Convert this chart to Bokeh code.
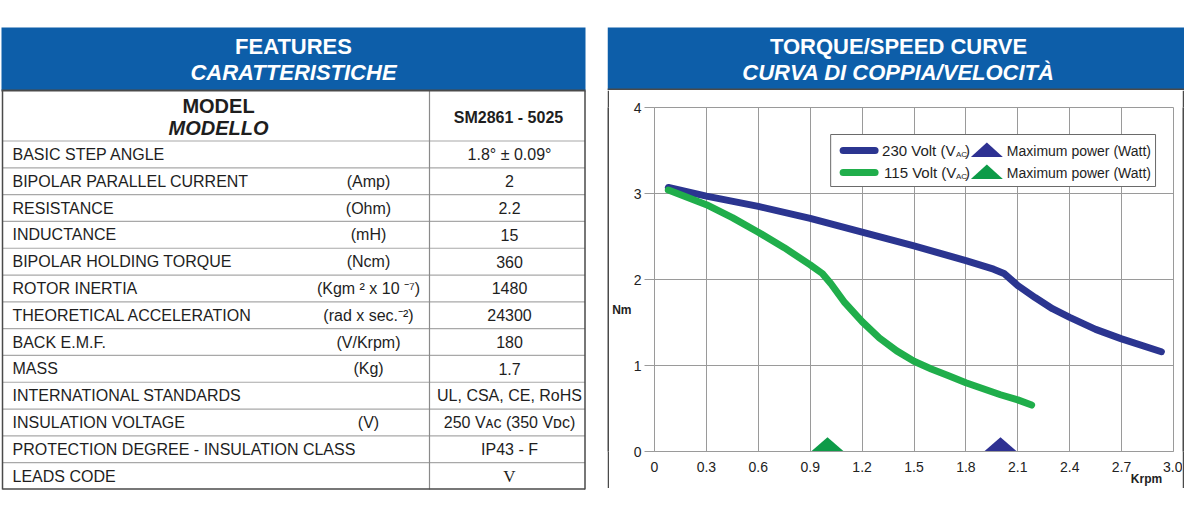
from bokeh.plotting import figure
from bokeh.layouts import row, column
from bokeh.models import Range1d, FixedTicker, LinearAxis
from bokeh.core.properties import value
from bokeh.embed import file_html
from bokeh.resources import INLINE

# ------------------------------------------------------------------ data
header_left = ["FEATURES", "CARATTERISTICHE"]
header_right = ["TORQUE/SPEED CURVE", "CURVA DI COPPIA/VELOCITÀ"]
model_label = ["MODEL", "MODELLO"]
model_value = "SM2861 - 5025"

row_labels = ["BASIC STEP ANGLE", "BIPOLAR PARALLEL CURRENT", "RESISTANCE", "INDUCTANCE",
              "BIPOLAR HOLDING TORQUE", "ROTOR INERTIA", "THEORETICAL ACCELERATION",
              "BACK E.M.F.", "MASS", "INTERNATIONAL STANDARDS", "INSULATION VOLTAGE",
              "PROTECTION DEGREE - INSULATION CLASS", "LEADS CODE"]
row_units = ["", "(Amp)", "(Ohm)", "(mH)", "(Ncm)", "(Kgm ² x 10 ⁻⁷)", "(rad x sec.⁻²)",
             "(V/Krpm)", "(Kg)", "", "(V)", "", ""]
row_values = ["1.8° ± 0.09°", "2", "2.2", "15", "360", "1480", "24300", "180", "1.7",
              "UL, CSA, CE, RoHS", "250 Vᴀᴄ (350 Vᴅᴄ)", "IP43 - F", "V"]

speed_230 = [0.08, 0.3, 0.6, 0.9, 1.2, 1.5, 1.8, 1.96, 2.02, 2.1, 2.2, 2.3, 2.4, 2.55, 2.7, 2.93]
torque_230 = [3.07, 2.97, 2.85, 2.71, 2.55, 2.39, 2.22, 2.12, 2.07, 1.93, 1.79, 1.66, 1.56, 1.42, 1.31, 1.16]
speed_115 = [0.08, 0.3, 0.45, 0.6, 0.75, 0.9, 0.97, 1.02, 1.1, 1.2, 1.3, 1.4, 1.5, 1.6,
             1.7, 1.8, 1.9, 2.0, 2.1, 2.18]
torque_115 = [3.04, 2.87, 2.72, 2.55, 2.37, 2.17, 2.07, 1.95, 1.73, 1.51, 1.32, 1.17, 1.05, 0.96,
              0.88, 0.80, 0.73, 0.66, 0.60, 0.54]
max_power_speed = [2.0, 1.0]          # 230 V, 115 V
series_names = ["230 Volt (V", "115 Volt (V"]
series_sub = "AC"
marker_name = "Maximum power (Watt)"

x_ticks = [0, 0.3, 0.6, 0.9, 1.2, 1.5, 1.8, 2.1, 2.4, 2.7, 3.0]
x_tick_labels = ["0", "0.3", "0.6", "0.9", "1.2", "1.5", "1.8", "2.1", "2.4", "2.7", "3.0"]
y_ticks = [0, 1, 2, 3, 4]
x_unit = "Krpm"
y_unit = "Nm"

# ------------------------------------------------------------------ style
FONT = "Liberation Sans"
HDR_BLUE = "#0d5ea9"
NAVY = "#2b3590"
GREEN = "#20ae4b"
TRI_NAVY = "#2e3192"
TRI_GREEN = "#0d9b48"
GRID = "#9a9a9a"
BORDER = "#4a4a4a"
ROWLINE = "#a8a8a8"
TXT = "#1e1e1e"


def blank(width, height, xr, yr, bg="white"):
    return figure(width=width, height=height, x_range=xr, y_range=yr,
                  x_axis_type=None, y_axis_type=None, toolbar_location=None,
                  output_backend="svg", min_border=0, outline_line_color=None,
                  background_fill_color=bg, border_fill_color=bg)


def txt(f, x, y, t, size, style="normal", align="center", color=TXT, font=FONT):
    f.text(x=x, y=y, text=t, text_font=value(font), text_font_size=value(size),
           text_font_style=style, text_align=align, text_baseline="middle",
           text_color=color)


# ------------------------------------------------------------------ left table
L = blank(607, 496, Range1d(3, 610), Range1d(496, 0))
L.quad(left=[4], right=[588], top=[27], bottom=[90], fill_color=HDR_BLUE, line_color=None)
txt(L, [296], [46], [header_left[0]], "22px", "bold", color="white")
txt(L, [296], [72], [header_left[1]], "22px", "bold italic", color="white")

ROW_TOP = 140.5
ROW_H = (489 - ROW_TOP) / len(row_labels)
row_lines = [ROW_TOP + ROW_H * i for i in range(len(row_labels))]
L.segment(x0=[5] * len(row_lines), x1=[587.5] * len(row_lines), y0=row_lines, y1=row_lines,
          line_color=ROWLINE, line_width=1.2)
L.segment(x0=[432], x1=[432], y0=[90], y1=[489], line_color="#8a8a8a", line_width=1.2)
L.segment(x0=[5, 587.5, 5, 4], x1=[5, 587.5, 587.5, 588], y0=[90, 90, 488.5, 90],
          y1=[489, 489, 488.5, 90], line_color=BORDER, line_width=[1.5, 1.5, 1.5, 2])

txt(L, [221], [105], [model_label[0]], "20px", "bold")
txt(L, [221], [127], [model_label[1]], "20px", "bold italic")
txt(L, [511], [117], [model_value], "16px", "bold")

centers = [ROW_TOP + ROW_H * (i + 0.5) for i in range(len(row_labels))]
txt(L, [15] * len(row_labels), centers, row_labels, "16px", align="left")
txt(L, [371] * len(row_units), centers, row_units, "16px")
txt(L, [512] * (len(row_values) - 1), centers[:-1], row_values[:-1], "16px")
txt(L, [512], centers[-1:], row_values[-1:], "17px", font="Liberation Serif")

# ------------------------------------------------------------------ right header
RH = blank(577, 90, Range1d(615, 1192), Range1d(90, 0))
RH.quad(left=[615], right=[1192], top=[27], bottom=[90], fill_color=HDR_BLUE, line_color=None)
RH.segment(x0=[615], x1=[1192], y0=[89], y1=[89], line_color=BORDER, line_width=2)
txt(RH, [906], [46], [header_right[0]], "22px", "bold", color="white")
txt(RH, [906], [72], [header_right[1]], "22px", "bold italic", color="white")

# ------------------------------------------------------------------ chart
C = figure(width=573, height=398, x_range=Range1d(0, 3.0), y_range=Range1d(0, 4),
           min_border_left=44, min_border_right=9, min_border_top=17, min_border_bottom=37,
           toolbar_location=None, output_backend="svg", outline_line_color=GRID,
           background_fill_color="white", border_fill_color="white")
C.xaxis.ticker = FixedTicker(ticks=x_ticks)
C.xaxis.major_label_overrides = dict(zip(x_ticks, x_tick_labels))
C.yaxis.ticker = FixedTicker(ticks=y_ticks)
for ax in (C.xaxis, C.yaxis):
    ax.axis_line_color = GRID
    ax.major_tick_line_color = GRID
    ax.minor_tick_out = 0
    ax.minor_tick_in = 0
    ax.major_tick_in = 0
    ax.major_label_text_font = FONT
    ax.major_label_text_font_size = "14px"
    ax.major_label_text_color = "#222222"
C.xaxis.major_tick_out = 0
C.xaxis.major_label_standoff = 10
C.yaxis.major_tick_out = 10
C.yaxis.major_label_standoff = 3
C.grid.grid_line_color = GRID
C.grid.grid_line_width = 1


def px2x(X):
    return (X - 661) * 3.0 / 520


def px2y(Y):
    return (452 - Y) * 4.0 / 344


# unit captions as extra axes (they sit outside the frame, like the original)
KRPM_X = round(px2x(1154), 3)
NM_Y = round(px2y(310), 3)
unit_axes = [
    (LinearAxis(ticker=FixedTicker(ticks=[KRPM_X]), major_label_overrides={KRPM_X: x_unit}), "below", -3),
    (LinearAxis(ticker=FixedTicker(ticks=[NM_Y]), major_label_overrides={NM_Y: y_unit}), "left", -1),
]
for ax, side, standoff in unit_axes:
    ax.axis_line_color = None
    ax.major_tick_line_color = None
    ax.minor_tick_line_color = None
    ax.major_tick_out = 0
    ax.major_tick_in = 0
    ax.minor_tick_out = 0
    ax.minor_tick_in = 0
    ax.major_label_standoff = standoff
    ax.major_label_text_font = FONT
    ax.major_label_text_font_size = "12px"
    ax.major_label_text_font_style = "bold"
    ax.major_label_text_color = "#222222"
    C.add_layout(ax, side)

C.line(speed_230, torque_230, line_color=NAVY, line_width=7, line_cap="round", line_join="round")
C.line(speed_115, torque_115, line_color=GREEN, line_width=7, line_cap="round", line_join="round")

TRI_W, TRI_H = 0.095, 0.167
C.patches(xs=[[s - TRI_W, s, s + TRI_W] for s in max_power_speed],
          ys=[[0, TRI_H, 0] for _ in max_power_speed],
          fill_color=[TRI_NAVY, TRI_GREEN], line_color=None)

# legend (drawn by hand to keep the two-column layout and the subscript)
C.quad(left=[px2x(837.5)], right=[px2x(1163)], top=[px2y(135)], bottom=[px2y(187)],
       fill_color="white", line_color="#6a6a6a", line_width=1)
rows_y = [151, 173]
C.segment(x0=[px2x(850)] * 2, x1=[px2x(882)] * 2, y0=[px2y(y) for y in rows_y],
          y1=[px2y(y) for y in rows_y], line_color=[NAVY, GREEN], line_width=7, line_cap="round")
txt(C, [px2x(889), px2x(891)], [px2y(y) for y in rows_y], series_names, "15px", align="left")
txt(C, [px2x(963)] * 2, [px2y(y + 4) for y in rows_y], [series_sub] * 2, "8px", align="left")
txt(C, [px2x(972)] * 2, [px2y(y) for y in rows_y], [")"] * 2, "15px", align="left")
C.patches(xs=[[px2x(978), px2x(994), px2x(1010)] for _ in rows_y],
          ys=[[px2y(y + 6.5), px2y(y - 8), px2y(y + 6.5)] for y in rows_y],
          fill_color=[TRI_NAVY, TRI_GREEN], line_color=None)
txt(C, [px2x(1014)] * 2, [px2y(y) for y in rows_y], [marker_name] * 2, "14px", align="left")

# box edges around the chart
bl = blank(2, 398, Range1d(0, 1), Range1d(0, 1), bg=BORDER)
br = blank(2, 398, Range1d(0, 1), Range1d(0, 1), bg=BORDER)
bb = blank(577, 2, Range1d(0, 1), Range1d(0, 1), bg=BORDER)

layout = row(L, column(RH, row(bl, C, br), bb))
open("out.html", "w").write(file_html(layout, INLINE, "SM2861 - 5025"))
